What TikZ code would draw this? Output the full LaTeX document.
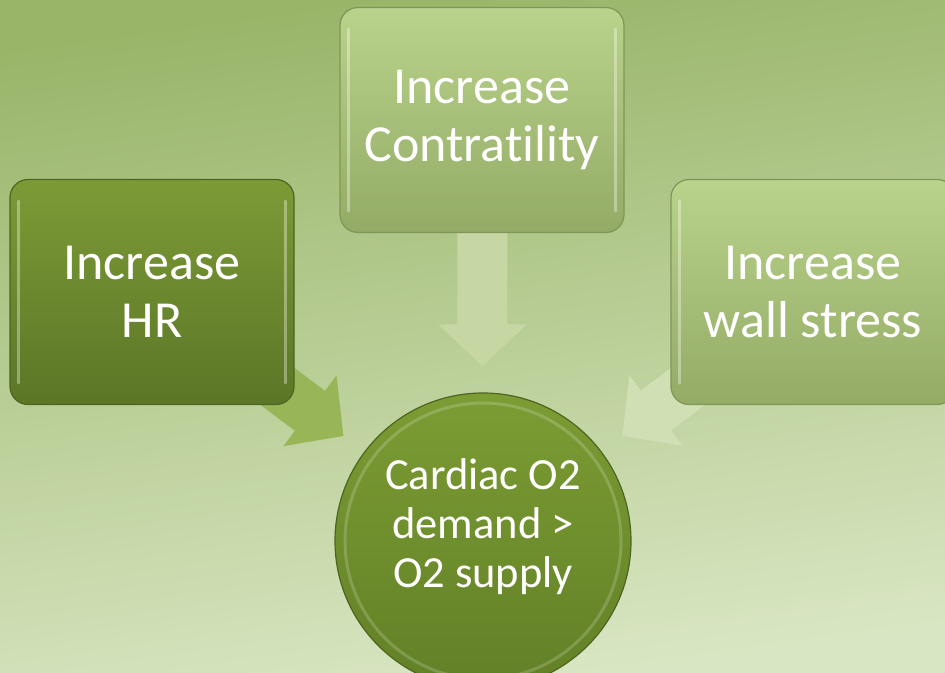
\documentclass[tikz,border=0pt]{standalone}
\usepackage{fontspec}
\setmainfont{Carlito}[Ligatures=NoCommon]
\usetikzlibrary{arrows.meta}
\pgfdeclarelayer{bg}
\pgfdeclarelayer{arr}
\pgfsetlayers{bg,arr,main}

\definecolor{bgtop}{RGB}{152,181,104}
\definecolor{bgbot}{RGB}{217,230,195}
\definecolor{hrtop}{RGB}{124,155,54}
\definecolor{hrbot}{RGB}{92,118,39}
\definecolor{hrline}{RGB}{78,100,32}
\definecolor{lttop}{RGB}{186,211,139}
\definecolor{ltbot}{RGB}{147,171,101}
\definecolor{ltline}{RGB}{128,150,88}
\definecolor{goaltop}{RGB}{124,156,52}
\definecolor{goalbot}{RGB}{98,128,38}
\definecolor{arrleft}{RGB}{152,182,88}
\definecolor{arrdown}{RGB}{199,215,164}
\definecolor{arrright}{RGB}{208,223,180}

\begin{document}
\begin{tikzpicture}[x=1pt,y=-1pt,
	box/.style={rectangle,rounded corners=18pt,minimum width=284pt,minimum height=225pt,
		text=white,align=center,font=\fontsize{52}{58}\selectfont,line width=1.2pt},
	darkbox/.style={box,top color=hrtop,bottom color=hrbot,draw=hrline},
	lightbox/.style={box,top color=lttop,bottom color=ltbot,draw=ltline},
	goal/.style={circle,minimum size=296pt,inner sep=0pt,top color=goaltop,bottom color=goalbot,
		draw=hrline,line width=1.2pt},
	goaltext/.style={text=white,align=center,font=\fontsize{44.5}{49}\selectfont},
	bevel/.style={draw=white,draw opacity=.35,line width=2.5pt,line cap=round},
	feed/.style={line width=50pt,-{Triangle[width=86pt,length=42pt]},shorten >=26pt}]
		\useasboundingbox (0,0) rectangle (945,672);
		\begin{pgfonlayer}{bg}
			\shade[top color=bgtop,bottom color=bgbot,shading angle=8] (0,0) rectangle (945,672);
		\end{pgfonlayer}

		\node[darkbox] (hr) at (152,292) {Increase\\HR};
		\node[lightbox] (cont) at (482,120) {Increase\\Contratility};
		\node[lightbox] (ws) at (813,292) {Increase\\wall stress};
		\node[goal] (demand) at (483,541) {};
		\node[goaltext] (demandtext) at ([yshift=14pt]demand.center) {Cardiac O2\\demand >\\O2 supply};

		\foreach \n in {hr,cont,ws} {
			\draw[bevel] ([shift={(9,22)}]\n.north west) -- ([shift={(9,-22)}]\n.south west);
			\draw[bevel] ([shift={(-9,22)}]\n.north east) -- ([shift={(-9,-22)}]\n.south east);
		}
		\draw[draw=white,draw opacity=.18,line width=3pt] (demand.center) circle (138);

		\begin{pgfonlayer}{arr}
			\draw[feed,draw=arrleft] (hr.center) -- (demand);
			\draw[feed,draw=arrdown] (cont.center) -- (demand);
			\draw[feed,draw=arrright] (ws.center) -- (demand);
		\end{pgfonlayer}
	\end{tikzpicture}
\end{document}
